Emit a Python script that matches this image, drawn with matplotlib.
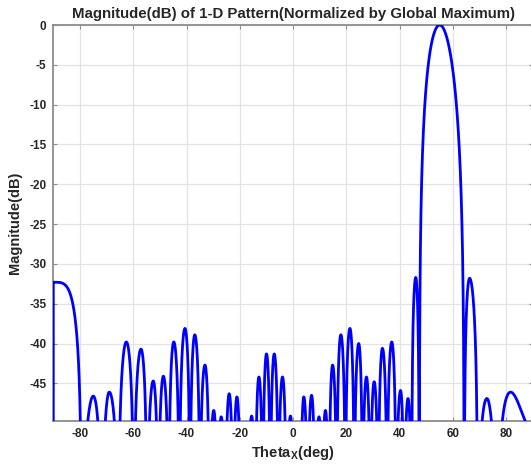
import numpy as np
import matplotlib
matplotlib.use("Agg")
import matplotlib.pyplot as plt

# ---- data ----
# lobe peak angles (deg) and peak levels (dB)
lobe_peak_deg = [-90.0, -75.0, -69.0, -62.6, -57.1, -52.5, -48.7, -44.8, -40.6, -36.9,
                 -33.1, -29.8, -27.0, -24.0, -21.1, -18.4, -15.6, -12.85, -10.0, -7.1,
                 -4.0, -1.0, 1.5, 4.0, 6.9, 9.7, 12.1, 14.8, 17.9, 21.3,
                 24.6, 27.5, 30.4, 33.5, 37.0, 40.3, 43.1, 46.0, 55.0, 66.2,
                 72.7, 81.6]
lobe_peak_db = [-32.3, -46.6, -46.1, -39.8, -40.7, -44.7, -44.1, -39.8, -38.1, -38.9,
                -42.7, -48.4, -49.2, -46.3, -46.7, -52.0, -49.1, -44.2, -41.3, -41.3,
                -44.2, -49.1, -52.0, -46.7, -46.5, -49.2, -48.4, -42.7, -38.9, -38.1,
                -40.0, -44.2, -44.8, -40.6, -39.8, -45.9, -46.9, -31.7, 0.0, -31.8,
                -46.9, -46.1]
# nulls between consecutive lobes (deg)
null_deg = [-79.4, -71.8, -65.6, -59.8, -54.8, -50.6, -46.7, -42.7, -38.7, -35.0,
            -31.4, -28.4, -25.5, -22.5, -19.7, -17.0, -14.2, -11.4, -8.55, -5.55,
            -2.5, 0.25, 2.75, 5.45, 8.3, 10.9, 13.45, 16.35, 19.6, 22.95,
            26.05, 28.95, 31.95, 35.25, 38.65, 41.65, 44.5, 47.3, 64.2, 69.2,
            76.4]
floor_db = -60.0

x_ticks = [-80, -60, -40, -20, 0, 20, 40, 60, 80]
y_ticks = [-45, -40, -35, -30, -25, -20, -15, -10, -5, 0]
title_text = "Magnitude(dB) of 1-D Pattern(Normalized by Global Maximum)"
x_label = r"Theta$_{\mathbf{X}}$(deg)"
y_label = "Magnitude(dB)"

# ---- build the pattern curve from the lobe description (in sine space) ----
u_peak = np.sin(np.radians(lobe_peak_deg))
u_null = np.sin(np.radians(null_deg))
bounds = np.concatenate([[2 * u_peak[0] - u_null[0]], u_null,
                         [2 * u_peak[-1] - u_null[-1]]])
theta = np.linspace(-90, 90, 18001)
u = np.sin(np.radians(theta))
idx = np.clip(np.searchsorted(bounds, u) - 1, 0, len(lobe_peak_db) - 1)
uL, uR, uP = bounds[idx], bounds[idx + 1], u_peak[idx]
pk = np.array(lobe_peak_db)[idx]
shape_exp = np.where(pk >= max(lobe_peak_db), 1.4, 1.0)
amp = np.where(u <= uP,
               np.sin(0.5 * np.pi * np.clip((u - uL) / (uP - uL), 0, 1)),
               np.sin(0.5 * np.pi * np.clip((uR - u) / (uR - uP), 0, 1)))
db = pk + shape_exp * 20 * np.log10(np.maximum(amp, 1e-9))
db = np.maximum(db, floor_db)
theta = np.concatenate([[theta[0]], theta])
db = np.concatenate([[floor_db], db])

# ---- figure ----
plt.rcParams['font.family'] = ['Liberation Sans', 'DejaVu Sans']
plt.rcParams['mathtext.fontset'] = 'custom'
plt.rcParams['mathtext.bf'] = 'Liberation Sans:bold'
plt.rcParams['mathtext.rm'] = 'Liberation Sans:bold'
plt.rcParams['axes.unicode_minus'] = False

txt = '#262626'
fig = plt.figure(figsize=(5.31, 4.71), dpi=100)
ax = fig.add_axes([53.3 / 531, 1 - 420.7 / 471, (533 - 53.3) / 531, (420.7 - 25) / 471])
ax.plot(theta, db, color='#0000ff', lw=2.0, zorder=3)
ax.set_xlim(-90, 90)
ax.set_ylim(-49.69, 0)
ax.set_xticks(x_ticks)
ax.set_yticks(y_ticks)
ax.grid(True, color='#e3e3e3', lw=0.9)
ax.set_axisbelow(True)
for s in ax.spines.values():
    s.set_color('#8c8c8c')
    s.set_linewidth(1.3)
    s.set_zorder(2.5)
ax.tick_params(direction='in', length=3, width=0.8, color='#8c8c8c', top=True, right=True,
               labelsize=8.5, labelcolor=txt, pad=5)
for lab in ax.get_xticklabels() + ax.get_yticklabels():
    lab.set_fontweight('bold')
ax.set_title(title_text, fontsize=10.8, fontweight='bold', color=txt, pad=5)
ax.set_xlabel(x_label, fontsize=10.5, fontweight='bold', color=txt, labelpad=3)
ax.set_ylabel(y_label, fontsize=10.5, fontweight='bold', color=txt, labelpad=5)
fig.savefig('out.png', dpi=100)
